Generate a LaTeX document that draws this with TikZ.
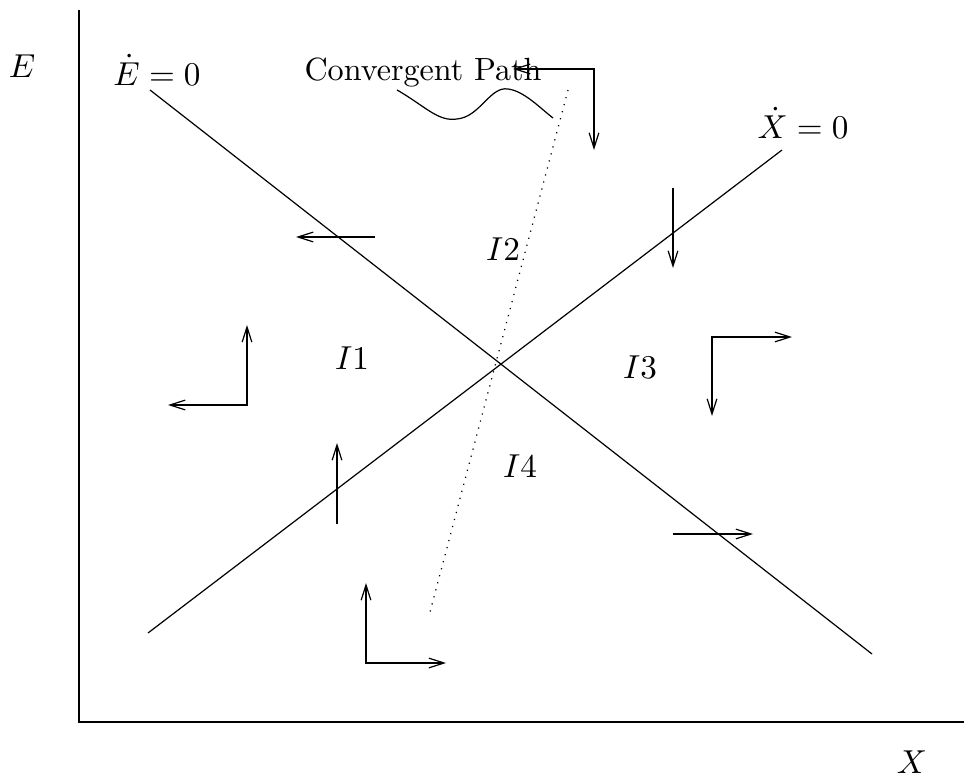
\documentclass[tikz,border=0pt]{standalone}
\usetikzlibrary{arrows.meta}
\begin{document}
\begin{tikzpicture}[
    x=0.33pt, y=-0.33pt,
    flow/.style={-{Straight Barb[length=5pt,width=3.2pt]}},
    turn/.style={{Straight Barb[length=5pt,width=3.2pt]}-{Straight Barb[length=5pt,width=3.2pt]}},
    axis/.style={line width=0.75pt},
    lbl/.style={inner sep=0pt, font=\fontsize{10.6}{13}\selectfont}
]
    \useasboundingbox (0,0) rectangle (964,777);

    % axes
    \coordinate (top) at (79,10);
    \coordinate (origin) at (79,722);
    \coordinate (right) at (964,722);
    \draw [axis] (top) -- (origin) -- (right);
    \node [lbl] (elabel) at (22,66) {$E$};
    \node [lbl] (xlabel) at (912,762) {$X$};

    % loci
    \node [lbl] (edot) at (157,70) {$\dot E = 0$};
    \node [lbl] (xdot) at (803,123) {$\dot X = 0$};
    \coordinate (e1) at (150,90);
    \coordinate (e2) at (872,654);
    \coordinate (x1) at (148,633);
    \coordinate (x2) at (782,150);
    \draw (e1) -- (e2);
    \draw (x1) -- (x2);

    % convergent path
    \node [lbl] (conv) at (423,72) {Convergent Path};
    \coordinate (w0) at (397,90);
    \coordinate (w1) at (457,119);
    \coordinate (w2) at (508,89);
    \coordinate (w3) at (553,118);
    \draw (w0) .. controls (425,106) and (438,122) .. (w1)
               .. controls (480,117) and (490,86) .. (w2)
               .. controls (524,91) and (540,108) .. (w3);
    \coordinate (p1) at (568,90);
    \coordinate (p2) at (430,612);
    \draw [dotted] (p1) -- (p2);

    % region labels
    \node [lbl] (i1) at (352,358) {$I1$};
    \node [lbl] (i2) at (503,249) {$I2$};
    \node [lbl] (i3) at (640,367) {$I3$};
    \node [lbl] (i4) at (520,466) {$I4$};

    % motion arrows
    \coordinate (a1) at (513,69);
    \coordinate (c1) at (594,69);
    \coordinate (b1) at (594,150);
    \draw [turn] (a1) -- (c1) -- (b1);

    \coordinate (a2) at (375,237);
    \coordinate (b2) at (296,237);
    \draw [flow] (a2) -- (b2);

    \coordinate (a3) at (673,188);
    \coordinate (b3) at (673,268);
    \draw [flow] (a3) -- (b3);

    \coordinate (a4) at (247,325);
    \coordinate (c4) at (247,405);
    \coordinate (b4) at (168,405);
    \draw [turn] (a4) -- (c4) -- (b4);

    \coordinate (a5) at (792,337);
    \coordinate (c5) at (712,337);
    \coordinate (b5) at (712,416);
    \draw [turn] (a5) -- (c5) -- (b5);

    \coordinate (a6) at (337,524);
    \coordinate (b6) at (337,443);
    \draw [flow] (a6) -- (b6);

    \coordinate (a7) at (673,534);
    \coordinate (b7) at (753,534);
    \draw [flow] (a7) -- (b7);

    \coordinate (a8) at (366,583);
    \coordinate (c8) at (366,663);
    \coordinate (b8) at (446,663);
    \draw [turn] (a8) -- (c8) -- (b8);
\end{tikzpicture}
\end{document}
